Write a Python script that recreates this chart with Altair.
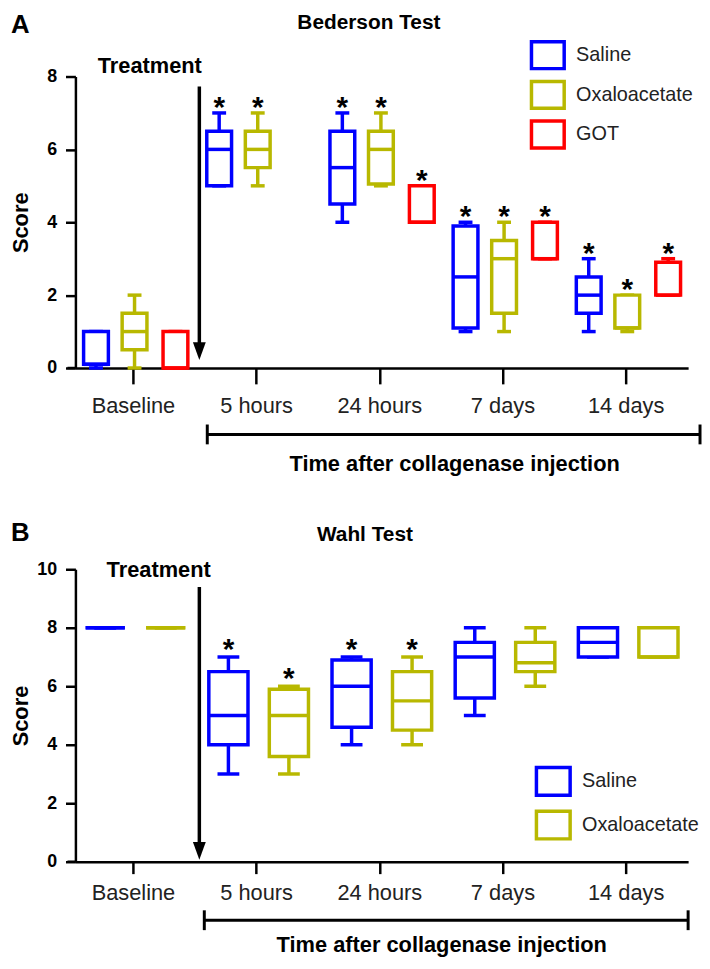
import json
import altair as alt
import pandas as pd

FONT = "Liberation Sans"

# ---------------- data ----------------
time_labels = ["Baseline", "5 hours", "24 hours", "7 days", "14 days"]
time_ticks = [0, 1, 2, 3, 4]

groups_a = ["Saline", "Oxaloacetate", "GOT"]
colors_a = ["#0000FF", "#B8B800", "#FF0000"]
groups_b = ["Saline", "Oxaloacetate"]
colors_b = ["#0000FF", "#B8B800"]

# Panel A: Bederson Test (box plot summaries)
bed_time = [0, 0, 0, 1, 1, 2, 2, 2, 3, 3, 3, 4, 4, 4]
bed_group = ["Saline", "Oxaloacetate", "GOT",
             "Saline", "Oxaloacetate",
             "Saline", "Oxaloacetate", "GOT",
             "Saline", "Oxaloacetate", "GOT",
             "Saline", "Oxaloacetate", "GOT"]
bed_min = [0, 0, 0, 5, 5, 4, 5, 4, 1, 1, 3, 1, 1, 2]
bed_q1 = [0.1, 0.5, 0, 5, 5.5, 4.5, 5.05, 4, 1.1, 1.5, 3, 1.5, 1.1, 2]
bed_median = [0.1, 1, 0, 6, 6, 5.5, 6, 4, 2.5, 3, 3, 2, 1.1, 2]
bed_q3 = [1, 1.5, 1, 6.5, 6.5, 6.5, 6.5, 5, 3.9, 3.5, 4, 2.5, 2, 2.9]
bed_max = [1, 2, 1, 7, 7, 7, 7, 5, 4, 4, 4, 3, 2, 3]
bed_sig = [0, 0, 0, 1, 1, 1, 1, 1, 1, 1, 1, 1, 1, 1]

# Panel B: Wahl Test
wahl_time = [0, 0, 1, 1, 2, 2, 3, 3, 4, 4]
wahl_group = ["Saline", "Oxaloacetate"] * 5
wahl_min = [8, 8, 3, 3, 4, 4, 5, 6, 7, 7]
wahl_q1 = [8, 8, 4, 3.6, 4.6, 4.5, 5.6, 6.5, 7, 7]
wahl_median = [8, 8, 5, 5, 6, 5.5, 7, 6.8, 7.5, 7]
wahl_q3 = [8, 8, 6.5, 5.9, 6.9, 6.5, 7.5, 7.5, 8, 8]
wahl_max = [8, 8, 7, 6, 7, 7, 8, 8, 8, 8]
wahl_sig = [0, 0, 1, 1, 1, 1, 0, 0, 0, 0]

# ---------------- layout constants ----------------
W = 618
X_DOMAIN = [-0.467, 4.507]
PX = W / (X_DOMAIN[1] - X_DOMAIN[0])
SW = 3.5
XTITLE = "Time after collagenase injection"
LABEL_EXPR = "%s[datum.value]" % json.dumps(time_labels)
LEGEND_PATH = "M-1,-0.82H1V0.82H-1Z"


def box_frame(times, groups, lo, q1, med, q3, hi, sig, offsets, box_w, cap_w):
    df = pd.DataFrame(dict(time=times, group=groups, lo=lo, q1=q1, med=med,
                           q3=q3, hi=hi, sig=sig))
    df["x"] = df["time"] + df["group"].map(offsets)
    df["bx1"] = df["x"] - box_w / 2 / PX
    df["bx2"] = df["x"] + box_w / 2 / PX
    df["cx1"] = df["x"] - cap_w / 2 / PX
    df["cx2"] = df["x"] + cap_w / 2 / PX
    return df


def panel(df, groups, colors, H, ydom, yvals, o):
    xs = alt.Scale(domain=X_DOMAIN, nice=False, zero=False)
    ys = alt.Scale(domain=ydom, nice=False, zero=False)
    xaxis = alt.Axis(values=time_ticks, labelExpr=LABEL_EXPR, grid=False,
                     labelFont=FONT, labelFontSize=22, labelColor="#222",
                     labelFontWeight="normal",
                     tickSize=o["xtick"], tickWidth=2.5, tickColor="black",
                     domainWidth=2.5, domainColor="black",
                     labelPadding=o["xlabpad"],
                     titleFont=FONT, titleFontSize=22, titleFontWeight="bold",
                     titleColor="black", titleX=o["xtitle_x"],
                     titleY=o["xtitle_y"], titleBaseline="top",
                     titleAlign="center")
    yaxis = alt.Axis(values=yvals, grid=False, labelFont=FONT,
                     labelFontSize=18, labelFontWeight="bold",
                     labelColor="black", tickSize=10, tickWidth=2.5,
                     tickColor="black", domainWidth=2.5, domainColor="black",
                     labelPadding=9, titleFont=FONT, titleFontSize=22,
                     titleFontWeight="bold", titleColor="black",
                     titleX=-43, titleY=H / 2, titleAngle=270,
                     titleBaseline="bottom", titleAlign="center")

    def X(f):
        return alt.X(f, type="quantitative", scale=xs, axis=xaxis, title=XTITLE)

    def Y(f):
        return alt.Y(f, type="quantitative", scale=ys, axis=yaxis, title="Score")

    cscale = alt.Scale(domain=groups, range=colors)
    legend = alt.Legend(
        title=None, orient="none", legendX=o["leg_x"], legendY=o["leg_y"],
        symbolType=LEGEND_PATH, symbolSize=o["leg_size"],
        symbolStrokeWidth=SW, symbolFillColor="white",
        labelFont=FONT, labelFontSize=20, labelColor="#222",
        labelOffset=o["leg_laboff"], rowPadding=o["leg_rowpad"],
        labelLimit=300)
    col = alt.Stroke("group:N", scale=cscale, legend=legend)
    base = alt.Chart(df)

    w_lo = base.mark_rule(strokeWidth=SW).encode(x=X("x"), y=Y("lo"), y2="q1", stroke=col)
    w_hi = base.mark_rule(strokeWidth=SW).encode(x=X("x"), y=Y("q3"), y2="hi", stroke=col)
    c_lo = base.mark_rule(strokeWidth=SW).encode(x=X("cx1"), x2="cx2", y=Y("lo"), stroke=col)
    c_hi = base.mark_rule(strokeWidth=SW).encode(x=X("cx1"), x2="cx2", y=Y("hi"), stroke=col)
    box = base.mark_rect(fill="white", strokeWidth=SW).encode(
        x=X("bx1"), x2="bx2", y=Y("q1"), y2="q3", stroke=col)
    med = base.mark_rule(strokeWidth=SW).encode(x=X("bx1"), x2="bx2", y=Y("med"), stroke=col)
    star = base.transform_filter("datum.sig == 1").mark_text(
        text="*", font=FONT, fontSize=30, fontWeight="bold", color="black",
        baseline="alphabetic", dy=o["star_dy"]).encode(x=X("x"), y=Y("hi"))

    one = alt.Chart(pd.DataFrame({"k": [0]}))
    arrow = one.mark_rule(strokeWidth=SW, color="black").encode(
        x=alt.value(125), y=alt.value(o["arrow_top"]), y2=alt.value(o["arrow_tip"] - 9))
    head = one.mark_point(shape="M-0.72,-1L0.72,-1L0,1Z", filled=True, size=324,
                          color="black", opacity=1, strokeWidth=0).encode(
        x=alt.value(125), y=alt.value(o["arrow_tip"] - 9))
    treat = one.mark_text(text="Treatment", font=FONT, fontSize=22, fontWeight="bold",
                          color="black", baseline="middle", align="center").encode(
        x=alt.value(o["treat_x"]), y=alt.value(o["treat_y"]))
    letter = one.mark_text(text=o["letter"], font=FONT, fontSize=26, fontWeight="bold",
                           color="black", baseline="middle", align="left").encode(
        x=alt.value(-65), y=alt.value(o["letter_y"]))
    title = one.mark_text(text=o["title"], font=FONT, fontSize=21, fontWeight="bold",
                          color="black", baseline="middle", align="center").encode(
        x=alt.value(o["title_x"]), y=alt.value(o["title_y"]))
    by = H + o["br_dy"]
    br = one.mark_rule(strokeWidth=3, color="black").encode(
        x=alt.value(o["br_x1"]), x2=alt.value(o["br_x2"]), y=alt.value(by))
    br_l = one.mark_rule(strokeWidth=3, color="black").encode(
        x=alt.value(o["br_x1"]), y=alt.value(by - 10), y2=alt.value(by + 10))
    br_r = one.mark_rule(strokeWidth=3, color="black").encode(
        x=alt.value(o["br_x2"]), y=alt.value(by - 10), y2=alt.value(by + 10))
    ext = one.mark_rule(strokeWidth=2.5, color="black").encode(
        x=alt.value(-8), x2=alt.value(0), y=alt.value(H))

    return alt.layer(w_lo, w_hi, c_lo, c_hi, box, med, star, arrow, head, treat,
                     letter, title, br, br_l, br_r, ext).properties(width=W, height=H)


df_a = box_frame(bed_time, bed_group, bed_min, bed_q1, bed_median, bed_q3, bed_max,
                 bed_sig, {"Saline": -0.30, "Oxaloacetate": 0.013, "GOT": 0.345}, 25, 14)
df_b = box_frame(wahl_time, wahl_group, wahl_min, wahl_q1, wahl_median, wahl_q3,
                 wahl_max, wahl_sig, {"Saline": -0.225, "Oxaloacetate": 0.266}, 39.5, 22)

HA = 294
HB = 295
opts_a = dict(xtick=16, xlabpad=12, xtitle_x=382, xtitle_y=86,
              leg_x=458, leg_y=-40, leg_size=1089, leg_laboff=10, leg_rowpad=-5,
              star_dy=4, arrow_top=10, arrow_tip=286, treat_x=75, treat_y=-11,
              letter="A", letter_y=-52, title="Bederson Test", title_x=296,
              title_y=-54, br_dy=67, br_x1=133, br_x2=630)
opts_b = dict(xtick=12, xlabpad=9, xtitle_x=369, xtitle_y=74,
              leg_x=463, leg_y=195, leg_size=1156, leg_laboff=10, leg_rowpad=2,
              star_dy=2, arrow_top=18, arrow_tip=293, treat_x=84, treat_y=1,
              letter="B", letter_y=-37, title="Wahl Test", title_x=292,
              title_y=-35, br_dy=59, br_x1=130, br_x2=618)

chart_a = panel(df_a, groups_a, colors_a, HA, [0, 8], [0, 2, 4, 6, 8], opts_a)
chart_b = panel(df_b, groups_b, colors_b, HB, [0, 10], [0, 2, 4, 6, 8, 10], opts_b)

chart = alt.vconcat(chart_a, chart_b, spacing=46).resolve_scale(
    x="independent", y="independent", stroke="independent"
).resolve_legend(stroke="independent").properties(
    padding={"left": 2, "top": 0, "right": 0, "bottom": 0}
).configure(background="white").configure_view(stroke=None)

chart.save("out.html", embed_options={"renderer": "svg", "actions": False})
